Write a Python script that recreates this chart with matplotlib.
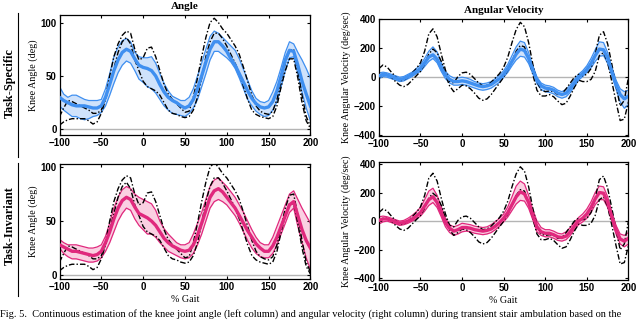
import matplotlib
matplotlib.use("Agg")
from matplotlib import pyplot as plt
from matplotlib.lines import Line2D
import numpy as np

gait = np.arange(-100, 201, 5)

# knee angle (deg), ground truth envelope
angle_gt_hi = [12, 20, 27, 26, 24, 22, 20, 18, 15, 15,
               18, 30, 50, 68, 80, 88, 92, 90, 75, 65,
               67, 76, 77, 68, 55, 42, 33, 28, 24, 20,
               16, 17, 30, 48, 68, 86, 100, 104, 100, 94,
               90, 84, 78, 70, 58, 45, 32, 22, 17, 15,
               14, 17, 28, 45, 62, 74, 75, 55, 32, 12,
               3]
angle_gt_lo = [4, 7, 9, 10, 10, 10, 10, 8, 5, 7,
               15, 28, 42, 57, 72, 82, 86, 80, 65, 55,
               45, 40, 38, 36, 32, 25, 18, 15, 14, 12,
               11, 12, 18, 30, 48, 68, 82, 90, 90, 85,
               78, 70, 62, 52, 40, 28, 18, 14, 12, 11,
               10, 12, 22, 40, 55, 66, 66, 48, 25, 8,
               1]

# task-specific angle estimate
ts_angle_mean = [30, 27, 25, 23, 22, 22, 22, 21, 20, 20,
                 22, 30, 42, 55, 65, 72, 75, 73, 66, 60,
                 58, 57, 55, 50, 42, 35, 30, 27, 25, 22,
                 20, 22, 28, 38, 50, 63, 75, 82, 82, 78,
                 73, 66, 60, 52, 44, 36, 29, 24, 21, 20,
                 21, 26, 36, 50, 65, 74, 73, 60, 45, 33,
                 22]
ts_angle_hi = [40, 33, 30, 32, 32, 30, 28, 27, 27, 27,
               28, 38, 52, 68, 77, 83, 85, 82, 72, 68,
               67, 67, 68, 62, 52, 43, 36, 31, 29, 27,
               27, 30, 38, 50, 62, 75, 87, 92, 90, 86,
               82, 78, 74, 66, 56, 46, 36, 29, 26, 25,
               27, 35, 45, 58, 72, 82, 80, 72, 65, 57,
               48]
ts_angle_lo = [22, 18, 15, 12, 12, 10, 9, 10, 12, 13,
               16, 22, 32, 43, 53, 60, 64, 62, 55, 47,
               44, 40, 38, 34, 28, 22, 18, 15, 14, 13,
               12, 15, 20, 28, 40, 52, 65, 73, 73, 70,
               67, 63, 57, 48, 38, 28, 22, 17, 14, 12,
               13, 18, 26, 40, 55, 67, 68, 52, 35, 20,
               8]

# task-invariant angle estimate
ti_angle_mean = [28, 26, 24, 22, 22, 21, 20, 19, 18, 19,
                 22, 30, 40, 52, 62, 69, 72, 70, 63, 57,
                 55, 53, 50, 46, 40, 34, 30, 27, 25, 23,
                 22, 23, 28, 37, 48, 60, 72, 78, 80, 77,
                 72, 67, 62, 55, 48, 41, 35, 29, 25, 22,
                 22, 27, 35, 45, 55, 65, 68, 55, 42, 32,
                 25]
ti_angle_hi = [33, 30, 28, 28, 28, 27, 26, 25, 25, 26,
               28, 36, 48, 62, 72, 79, 82, 80, 75, 72,
               70, 68, 66, 60, 50, 43, 38, 34, 30, 28,
               28, 30, 38, 48, 58, 70, 82, 88, 90, 86,
               82, 77, 72, 65, 58, 50, 42, 35, 30, 28,
               28, 35, 45, 55, 65, 75, 78, 70, 62, 55,
               48]
ti_angle_lo = [25, 20, 17, 15, 15, 14, 13, 12, 12, 13,
               16, 22, 30, 40, 50, 57, 62, 60, 52, 46,
               42, 38, 38, 35, 30, 26, 22, 20, 18, 16,
               15, 16, 20, 28, 38, 50, 62, 68, 70, 68,
               65, 60, 55, 48, 40, 32, 25, 20, 17, 16,
               16, 20, 28, 38, 48, 58, 62, 45, 30, 16,
               5]

# knee angular velocity (deg/sec), ground truth envelope
vel_gt_hi = [60, 85, 70, 35, 5, -25, -20, 0, 30, 60,
             100, 180, 300, 335, 280, 160, 50, -30, -40, 5,
             30, 35, 20, -10, -40, -60, -55, -35, -5, 25,
             70, 140, 240, 330, 380, 350, 240, 90, -30, -90,
             -100, -95, -100, -120, -115, -80, -40, 0, 20, 10,
             20, 60, 160, 290, 315, 230, 90, -60, -200, -160,
             0]
vel_gt_lo = [0, 20, 20, 0, -30, -55, -65, -50, -20, 10,
             40, 90, 160, 195, 170, 110, 20, -60, -100, -80,
             -55, -60, -80, -110, -145, -160, -150, -120, -80, -40,
             0, 50, 110, 180, 220, 210, 130, 20, -90, -130,
             -130, -120, -135, -165, -190, -180, -130, -70, -20, -30,
             -30, -15, 40, 150, 170, 100, -30, -170, -300, -290,
             -170]

ts_vel_mean = [10, 20, 15, 5, -5, -15, -10, 5, 20, 40,
               60, 100, 140, 155, 125, 65, 15, -15, -30, -30,
               -25, -30, -40, -50, -60, -65, -60, -50, -30, -10,
               20, 60, 110, 160, 195, 185, 130, 50, -20, -60,
               -75, -80, -90, -110, -120, -110, -80, -40, 0, 25,
               55, 95, 150, 195, 190, 130, 40, -50, -120, -150,
               -130]
ts_vel_hi = [30, 35, 30, 20, 10, 0, 5, 20, 35, 60,
             85, 130, 180, 210, 175, 100, 40, 10, -5, -5,
             0, -5, -15, -30, -40, -45, -40, -30, -10, 15,
             45, 90, 150, 210, 250, 240, 170, 80, 0, -40,
             -55, -60, -70, -90, -100, -85, -55, -15, 20, 45,
             80, 130, 190, 245, 240, 170, 70, -20, -80, -100,
             -90]
ts_vel_lo = [-10, 5, 0, -10, -20, -30, -25, -10, 5, 25,
             40, 75, 110, 130, 100, 40, -10, -40, -55, -55,
             -50, -55, -65, -75, -85, -90, -85, -75, -55, -35,
             0, 35, 80, 120, 145, 140, 95, 25, -45, -85,
             -100, -105, -115, -135, -145, -135, -105, -65, -20, 5,
             35, 65, 110, 145, 150, 95, 10, -80, -170, -215,
             -190]

ti_vel_mean = [5, 15, 15, 5, -5, -15, -10, 0, 15, 35,
               60, 105, 150, 170, 130, 60, -10, -50, -70, -60,
               -45, -45, -50, -60, -65, -70, -65, -55, -35, -10,
               20, 60, 115, 170, 205, 190, 130, 40, -40, -75,
               -85, -85, -95, -110, -115, -105, -75, -35, 0, 20,
               50, 95, 155, 200, 195, 130, 30, -60, -125, -140,
               -120]
ti_vel_hi = [30, 35, 30, 20, 10, 0, 5, 20, 40, 65,
             95, 150, 210, 230, 180, 100, 20, -25, -40, -30,
             -15, -20, -25, -35, -40, -45, -40, -25, -5, 20,
             50, 100, 170, 245, 280, 260, 180, 80, 0, -45,
             -60, -60, -70, -85, -90, -75, -45, -10, 25, 50,
             85, 135, 200, 245, 240, 170, 60, -30, -90, -100,
             -80]
ti_vel_lo = [-20, -5, 0, -10, -20, -30, -25, -15, 0, 15,
             35, 70, 110, 130, 95, 30, -40, -80, -100, -90,
             -75, -70, -75, -85, -90, -95, -90, -80, -60, -35,
             -5, 30, 75, 120, 145, 140, 90, 10, -75, -100,
             -110, -110, -120, -135, -140, -130, -100, -60, -25, -5,
             20, 60, 115, 150, 150, 95, 0, -90, -160, -180,
             -160]

BLUE, BLUE_FILL = '#3f8ff0', '#cfe2fb'
PINK, PINK_FILL = '#e0287d', '#fad0e2'
SERIF = 'Liberation Serif'
SANS = 'Liberation Sans'

fig = plt.figure(figsize=(6.4, 3.2), dpi=100)


def panel(rect, mean, hi, lo, gt_hi, gt_lo, color, fill, ylim, yticks, ylabel):
    ax = fig.add_axes(rect)
    ax.axhline(0, color='#b4b4b4', lw=1.0, zorder=0)
    ax.fill_between(gait, lo, hi, color=fill, lw=0, zorder=1)
    ax.plot(gait, hi, color=color, lw=0.9, zorder=2)
    ax.plot(gait, lo, color=color, lw=0.9, zorder=2)
    ax.plot(gait, gt_hi, color='black', lw=1.0, dashes=(4, 1.5, 1, 1.5), zorder=3)
    ax.plot(gait, gt_lo, color='black', lw=1.0, dashes=(4, 1.5, 1, 1.5), zorder=3)
    ax.plot(gait, mean, color=color, lw=2.4, zorder=4)
    ax.set_xlim(-100, 200)
    ax.set_ylim(*ylim)
    ax.set_xticks([-100, -50, 0, 50, 100, 150, 200])
    ax.set_yticks(yticks)
    ax.tick_params(direction='in', length=2.5, width=0.8, top=True, right=True,
                   labelsize=7, pad=2)
    for lab in ax.get_xticklabels() + ax.get_yticklabels():
        lab.set_fontfamily(SANS)
        lab.set_fontweight('bold')
    for s in ax.spines.values():
        s.set_linewidth(0.9)
    ax.set_ylabel(ylabel, fontfamily=SERIF, fontsize=7.2, labelpad=2)
    return ax


a1 = panel([0.093, 0.578, 0.392, 0.375], ts_angle_mean, ts_angle_hi, ts_angle_lo,
           angle_gt_hi, angle_gt_lo, BLUE, BLUE_FILL, (-5.3, 107), [0, 50, 100],
           'Knee Angle (deg)')
a2 = panel([0.592, 0.575, 0.390, 0.366], ts_vel_mean, ts_vel_hi, ts_vel_lo,
           vel_gt_hi, vel_gt_lo, BLUE, BLUE_FILL, (-407, 404), [-400, -200, 0, 200, 400],
           'Knee Angular Velocity (deg/sec)')
a3 = panel([0.093, 0.128, 0.392, 0.360], ti_angle_mean, ti_angle_hi, ti_angle_lo,
           angle_gt_hi, angle_gt_lo, PINK, PINK_FILL, (-3.7, 103), [0, 50, 100],
           'Knee Angle (deg)')
a4 = panel([0.592, 0.125, 0.390, 0.369], ti_vel_mean, ti_vel_hi, ti_vel_lo,
           vel_gt_hi, vel_gt_lo, PINK, PINK_FILL, (-412, 414), [-400, -200, 0, 200, 400],
           'Knee Angular Velocity (deg/sec)')

a1.set_title('Angle', fontfamily=SERIF, fontweight='bold', fontsize=8, pad=4)
a2.set_title('Angular Velocity', fontfamily=SERIF, fontweight='bold', fontsize=8, pad=4)
a3.set_xlabel('% Gait', fontfamily=SERIF, fontsize=7.2, labelpad=2)
a4.set_xlabel('% Gait', fontfamily=SERIF, fontsize=7.2, labelpad=2)

# row labels with side rules
fig.text(0.016, 0.74, 'Task-Specific', rotation=90, ha='center', va='center',
         fontfamily=SERIF, fontweight='bold', fontsize=8.8)
fig.text(0.016, 0.294, 'Task-Invariant', rotation=90, ha='center', va='center',
         fontfamily=SERIF, fontweight='bold', fontsize=8.8)
fig.add_artist(Line2D([0.028, 0.028], [0.959, 0.509], color='black', lw=0.8))
fig.add_artist(Line2D([0.028, 0.028], [0.491, 0.075], color='black', lw=0.8))

fig.text(0.0, 0.002, 'Fig. 5.  Continuous estimation of the knee joint angle (left column) and '
         'angular velocity (right column) during transient stair ambulation based on the',
         ha='left', va='bottom', fontfamily=SERIF, fontsize=7.5)

fig.savefig('out.png', dpi=100)
